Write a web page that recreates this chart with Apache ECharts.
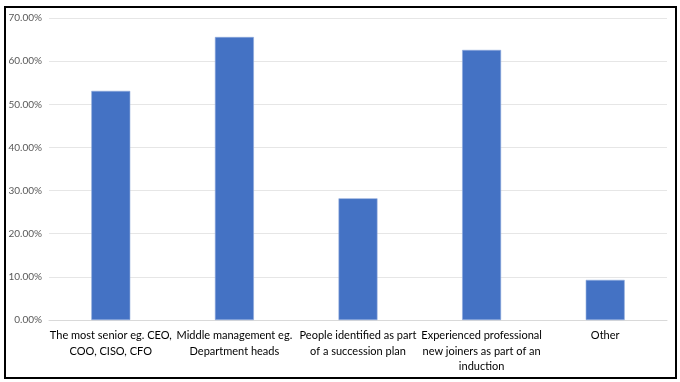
<!DOCTYPE html>
<html><head><meta charset="utf-8">
<script src="https://cdn.jsdelivr.net/npm/echarts@6/dist/echarts.min.js"></script>
<style>
html,body{margin:0;padding:0;background:#fff;}
#frame{position:absolute;left:4px;top:6px;width:669px;height:369px;border:2px solid #000;}
#c{position:absolute;left:0;top:0;width:680px;height:382px;}
</style></head>
<body>
<div id="frame"></div>
<div id="c"></div>
<script>
const categories = [
  "The most senior eg. CEO,\nCOO, CISO, CFO",
  "Middle management eg.\nDepartment heads",
  "People identified as part\nof a succession plan",
  "Experienced professional\nnew joiners as part of an\ninduction",
  "Other"
];
const values = [0.531, 0.656, 0.282, 0.626, 0.093];
const yTicks = { min: 0, max: 0.7, interval: 0.1 };

const chart = echarts.init(document.getElementById('c'), null, {renderer:'canvas'});
chart.setOption({
  animation: false,
  grid: { left: 49, right: 13, top: 18, bottom: 62, containLabel: false },
  xAxis: {
    type: 'category', data: categories,
    axisLine: { lineStyle: { color: '#d9d9d9', width: 1 } },
    axisTick: { show: false },
    axisLabel: { color: '#000', fontFamily: 'Lato', fontSize: 11, lineHeight: 15.5, margin: 8, interval: 0 }
  },
  yAxis: {
    type: 'value', min: yTicks.min, max: yTicks.max, interval: yTicks.interval,
    axisLine: { show: false }, axisTick: { show: false },
    splitLine: { lineStyle: { color: '#e6e6e6', width: 1 } },
    axisLabel: { color: '#595959', fontFamily: 'Lato', fontSize: 10, margin: 7,
      formatter: v => (v*100).toFixed(2) + '%' }
  },
  series: [{
    type: 'bar', data: values, barWidth: '31.5%',
    itemStyle: { color: '#4472C4', borderColor: '#8faadc', borderWidth: 0.6 }
  }]
});
</script>
</body></html>
